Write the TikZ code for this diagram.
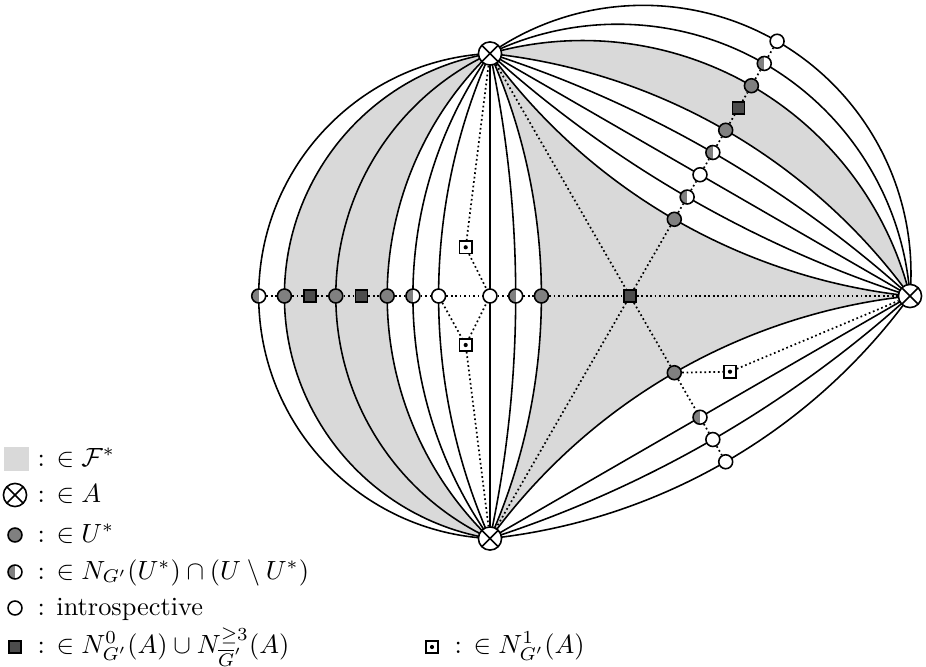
\documentclass[tikz,border=0pt]{standalone}
\usepackage{amsmath,amssymb}
\pgfdeclarelayer{bg}
\pgfsetlayers{bg,main}
\definecolor{regiongray}{gray}{0.85}
\definecolor{nodegray}{gray}{0.5}
\definecolor{sqgray}{gray}{0.3}
% distance of the n-th node from the circumcentre
\newcommand\nodedist[1]{140+25.7*(#1)}
% half arc angle and Bezier control length for the n-th curve
\newcommand\aphi[1]{(2*atan(25.7*(#1)/242.5))}
\newcommand\akk[1]{(161.6667/(cos(\aphi{#1}/2)*(1+cos(\aphi{#1}/2))))}
% circular arc V1 -> M -> V2 (outward direction #4, index #5)
\newcommand\arcfwd[5]{(#1.center) .. controls ([shift={({#4+90-\aphi{#5}}:{\akk{#5}})}]#1.center) and ([shift={({#4-90}:{\akk{#5}})}]#2.center) .. (#2.center) .. controls ([shift={({#4+90}:{\akk{#5}})}]#2.center) and ([shift={({#4-90+\aphi{#5}}:{\akk{#5}})}]#3.center) .. (#3.center)}
% same arc, run backwards V2 -> M -> V1
\newcommand\arcbwd[5]{(#1.center) .. controls ([shift={({#4-90+\aphi{#5}}:{\akk{#5}})}]#1.center) and ([shift={({#4+90}:{\akk{#5}})}]#2.center) .. (#2.center) .. controls ([shift={({#4-90}:{\akk{#5}})}]#2.center) and ([shift={({#4+90-\aphi{#5}}:{\akk{#5}})}]#3.center) .. (#3.center)}
\begin{document}
\begin{tikzpicture}[x=0.38pt, y=0.38pt,
  edgeline/.style={line width=0.6pt},
  dotline/.style={line width=0.65pt, dash pattern=on 0.65pt off 1.05pt},
  avert/.style={circle, draw, fill=white, line width=0.6pt, minimum size=8.8pt, inner sep=0pt,
    path picture={\draw[black, line width=0.6pt] (path picture bounding box.north west) -- (path picture bounding box.south east) (path picture bounding box.north east) -- (path picture bounding box.south west);}},
  ustar/.style={circle, draw, fill=nodegray, line width=0.6pt, minimum size=5.3pt, inner sep=0pt},
  halfn/.style={circle, draw, fill=white, line width=0.6pt, minimum size=5.3pt, inner sep=0pt,
    path picture={\fill[nodegray] (path picture bounding box.south west) rectangle (path picture bounding box.north);}},
  intro/.style={circle, draw, fill=white, line width=0.6pt, minimum size=5.3pt, inner sep=0pt},
  sqn/.style={rectangle, draw, fill=sqgray, line width=0.6pt, minimum size=4.6pt, inner sep=0pt},
  dsq/.style={rectangle, draw, fill=white, line width=0.6pt, minimum size=4.6pt, inner sep=0pt,
    path picture={\fill[black] (path picture bounding box.center) circle (0.8pt);}},
  legtext/.style={anchor=base west, inner sep=0pt}
]
\useasboundingbox (-630,-370) rectangle (296,296);

% vertices of A
\node[avert] (T) at (120:280) {};
\node[avert] (B) at (240:280) {};
\node[avert] (R) at (0:280) {};
\node[sqn] (C) at (0,0) {};

% left row
\node[ustar] (Lm2) at (180:{\nodedist{-2}}) {};
\node[halfn] (Lm1) at (180:{\nodedist{-1}}) {};
\node[intro] (L0) at (180:{\nodedist{0}}) {};
\node[intro] (L2) at (180:{\nodedist{2}}) {};
\node[halfn] (L3) at (180:{\nodedist{3}}) {};
\node[ustar] (L4) at (180:{\nodedist{4}}) {};
\node[sqn] (L5) at (180:{\nodedist{5}}) {};
\node[ustar] (L6) at (180:{\nodedist{6}}) {};
\node[sqn] (L7) at (180:{\nodedist{7}}) {};
\node[ustar] (L8) at (180:{\nodedist{8}}) {};
\node[halfn] (L9) at (180:{\nodedist{9}}) {};

% top row
\node[ustar] (Tm2) at (60:{\nodedist{-2}}) {};
\node[halfn] (Tm1) at (60:{\nodedist{-1}}) {};
\node[intro] (T0) at (60:{\nodedist{0}}) {};
\node[halfn] (T1) at (60:{\nodedist{1}}) {};
\node[ustar] (T2) at (60:{\nodedist{2}}) {};
\node[sqn] (T3) at (60:{\nodedist{3}}) {};
\node[ustar] (T4) at (60:{\nodedist{4}}) {};
\node[halfn] (T5) at (60:{\nodedist{5}}) {};
\node[intro] (T6) at (60:{\nodedist{6}}) {};

% bottom row
\node[ustar] (Bm2) at (300:{\nodedist{-2}}) {};
\node[halfn] (B0) at (300:{\nodedist{0}}) {};
\node[intro] (B1) at (300:{\nodedist{1}}) {};
\node[intro] (B2) at (300:{\nodedist{2}}) {};

% vertices in N^1
\node[dsq] (U) at (-164.3,48.7) {};
\node[dsq] (D) at (-164.3,-49) {};
\node[dsq] (Q) at (100,-75.7) {};

\begin{pgfonlayer}{bg}
  % faces in F*
  \fill[regiongray] \arcfwd{T}{L4}{B}{180}{4} -- \arcbwd{B}{L8}{T}{180}{8} -- cycle;
  \fill[regiongray] \arcfwd{R}{T2}{T}{60}{2} -- \arcbwd{T}{T4}{R}{60}{4} -- cycle;
  \fill[regiongray] \arcfwd{T}{Lm2}{B}{180}{-2} -- \arcfwd{B}{Bm2}{R}{300}{-2} -- \arcfwd{R}{Tm2}{T}{60}{-2} -- cycle;
  % curves
  \foreach \n/\m in {-2/Lm2,-1/Lm1,0/L0,2/L2,3/L3,4/L4,6/L6,8/L8,9/L9}
    {\draw[edgeline] \arcfwd{T}{\m}{B}{180}{\n};}
  \foreach \n/\m in {-2/Tm2,-1/Tm1,0/T0,1/T1,2/T2,4/T4,5/T5,6/T6}
    {\draw[edgeline] \arcfwd{R}{\m}{T}{60}{\n};}
  \foreach \n/\m in {-2/Bm2,0/B0,1/B1,2/B2}
    {\draw[edgeline] \arcfwd{B}{\m}{R}{300}{\n};}
  % dotted connections
  \draw[dotline] (L9) -- (L8) -- (L7) -- (L6) -- (L5) -- (L4) -- (L3) -- (L2) -- (L0) -- (Lm1) -- (Lm2) -- (C) -- (R);
  \draw[dotline] (T) -- (U) -- (L0);
  \draw[dotline] (L2) -- (D) -- (L0);
  \draw[dotline] (D) -- (B);
  \draw[dotline] (T) -- (C) -- (B);
  \draw[dotline] (C) -- (Tm2) -- (Tm1) -- (T0) -- (T1) -- (T2) -- (T3) -- (T4) -- (T5) -- (T6);
  \draw[dotline] (C) -- (Bm2) -- (B0) -- (B1) -- (B2);
  \draw[dotline] (Bm2) -- (Q) -- (R);
\end{pgfonlayer}

% legend
\node[rectangle, fill=regiongray, minimum width=9.5pt, minimum height=8.8pt, inner sep=0pt] (k1) at (-613.5,-163) {};
\node[legtext] (t1) at (-593,-170) {: $\in \mathcal{F}^*$};
\node[avert] (k2) at (-615,-199) {};
\node[legtext] (t2) at (-593,-206) {: $\in A$};
\node[ustar] (k3) at (-615,-239) {};
\node[legtext] (t3) at (-593,-246) {: $\in U^*$};
\node[halfn] (k4) at (-615,-276) {};
\node[legtext] (t4) at (-593,-283) {: $\in N_{G'}(U^*)\cap(U\setminus U^*)$};
\node[intro] (k5) at (-615,-312) {};
\node[legtext] (t5) at (-593,-319) {: introspective};
\node[sqn] (k6) at (-615,-351) {};
\node[legtext] (t6) at (-593,-357) {: $\in N^0_{G'}(A)\cup N^{\geq 3}_{\overline{G}'}(A)$};
\node[dsq] (k7) at (-198,-351) {};
\node[legtext] (t7) at (-176,-357) {: $\in N^1_{G'}(A)$};
\end{tikzpicture}
\end{document}
